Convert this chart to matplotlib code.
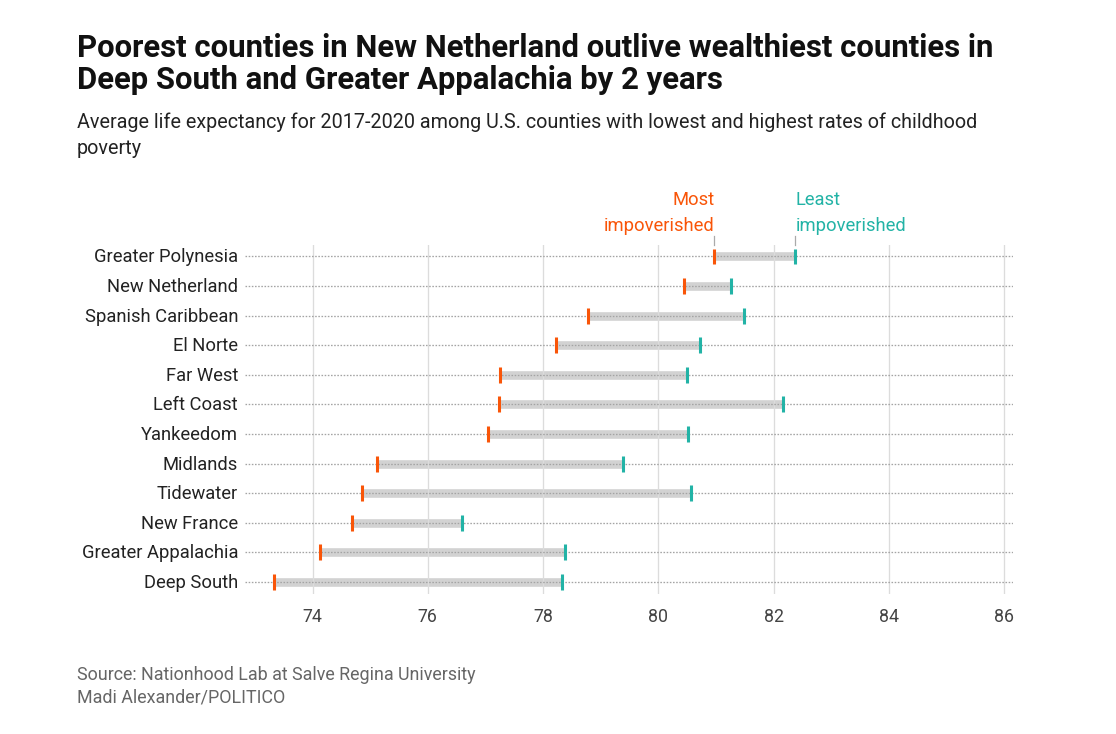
import matplotlib
matplotlib.use("Agg")
import matplotlib.pyplot as plt
from matplotlib.transforms import ScaledTranslation

regions = ["Greater Polynesia", "New Netherland", "Spanish Caribbean", "El Norte", "Far West", "Left Coast",
           "Yankeedom", "Midlands", "Tidewater", "New France", "Greater Appalachia", "Deep South"]
most = [80.97, 80.45, 78.78, 78.22, 77.26, 77.24, 77.05, 75.12, 74.86, 74.69, 74.13, 73.34]
least = [82.38, 81.26, 81.49, 80.73, 80.50, 82.17, 80.52, 79.39, 80.57, 76.60, 78.38, 78.33]
xticks = [74, 76, 78, 80, 82, 84, 86]

ORANGE = "#f95508"
TEAL = "#22b3a6"
W, H = 1116, 734
plt.rcParams["font.family"] = ["Roboto", "DejaVu Sans"]
fig = plt.figure(figsize=(W / 100, H / 100), dpi=100)
L, R, T, B = 245, 1013, 245, 594
ax = fig.add_axes([L / W, 1 - B / H, (R - L) / W, (B - T) / H])
px = (1004 - 312.5) / 12
ax.set_xlim(74 - (312.5 - L) / px, 86 + (R - 1004) / px)
step = (582 - 256.5) / 11
y0 = 256.5
ax.set_ylim((B - y0) / step, (T - y0) / step)

for s in ax.spines.values():
    s.set_visible(False)
ax.set_xticks(xticks)
ax.tick_params(axis="x", length=0, pad=10, labelsize=12.8, labelcolor="#444444")
ax.set_yticks(range(len(regions)))
ax.set_yticklabels(regions, fontsize=13.2, color="#222222")
ax.tick_params(axis="y", length=0, pad=5)
lift = ScaledTranslation(0, 1 / 100, fig.dpi_scale_trans)
for lab in ax.get_yticklabels():
    lab.set_transform(lab.get_transform() + lift)
ax.grid(axis="x", color="#dcdcdc", lw=0.95, zorder=0)

for i, (a, b) in enumerate(zip(most, least)):
    ax.plot([a, b], [i, i], color="#d2d2d2", lw=6.2, solid_capstyle="butt", zorder=1)
    ax.axhline(i, color="#a4a4a4", lw=0.95, ls=(0, (1.2, 1.2)), zorder=2)
    ax.plot([a, a], [i - 0.27, i + 0.27], color=ORANGE, lw=2.2, solid_capstyle="butt", zorder=3)
    ax.plot([b, b], [i - 0.27, i + 0.27], color=TEAL, lw=2.2, solid_capstyle="butt", zorder=3)

# Annotation ticks and labels for the first row
ax.plot([most[0], most[0]], [-0.40, -0.68], color="#aaaaaa", lw=0.9, clip_on=False)
ax.plot([least[0], least[0]], [-0.40, -0.68], color="#aaaaaa", lw=0.9, clip_on=False)
ax.text(most[0], -0.72, "Most\nimpoverished", color=ORANGE, fontsize=13.2, ha="right", va="bottom", linespacing=1.62)
ax.text(least[0], -0.72, "Least\nimpoverished", color=TEAL, fontsize=13.2, ha="left", va="bottom", linespacing=1.62)

fig.text(77 / W, 1 - 48 / H, "Poorest counties in New Netherland outlive wealthiest counties in",
         fontsize=22.4, fontweight="bold", color="#111111", va="center")
fig.text(77 / W, 1 - 80 / H, "Deep South and Greater Appalachia by 2 years",
         fontsize=22.4, fontweight="bold", color="#111111", va="center")
fig.text(77 / W, 1 - 122 / H, "Average life expectancy for 2017-2020 among U.S. counties with lowest and highest rates of childhood",
         fontsize=14.2, color="#222222", va="center")
fig.text(77 / W, 1 - 149 / H, "poverty", fontsize=14.2, color="#222222", va="center")
fig.text(77 / W, 1 - 675 / H, "Source: Nationhood Lab at Salve Regina University", fontsize=12.9, color="#666666", va="center")
fig.text(77 / W, 1 - 698 / H, "Madi Alexander/POLITICO", fontsize=12.9, color="#666666", va="center")

fig.savefig("out.png", dpi=100, facecolor="white")
